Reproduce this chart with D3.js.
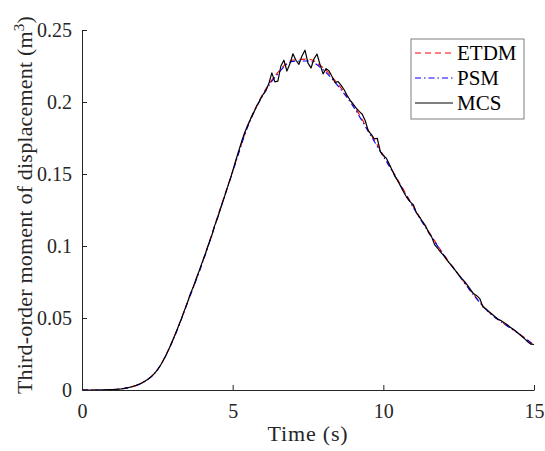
<!DOCTYPE html>
<html>
<head>
<meta charset="utf-8">
<script src="https://cdn.jsdelivr.net/npm/d3@7"></script>
<style>
  html, body { margin: 0; padding: 0; background: #fff; }
  svg { display: block; }
</style>
</head>
<body>
<div id="chart"></div>
<script>
// ---- data ----
const seriesNames = ['ETDM', 'PSM', 'MCS'];
const xTicks = [0, 5, 10, 15];
const yTicks = [0, 0.05, 0.1, 0.15, 0.2, 0.25];
const yTickLabels = ['0', '0.05', '0.1', '0.15', '0.2', '0.25'];

// smooth curves, every 0.5 s
const timeCoarse = [0, 0.5, 1, 1.5, 2, 2.5, 3, 3.5, 4, 4.5, 5, 5.5, 6, 6.5, 7, 7.5,
  8, 8.5, 9, 9.5, 10, 10.5, 11, 11.5, 12, 12.5, 13, 13.5, 14, 14.5, 15];
const etdm = [0, 0, 0.0003, 0.0015, 0.005, 0.014, 0.034, 0.061, 0.089, 0.1205, 0.152, 0.1835,
  0.2055, 0.2205, 0.2292, 0.2298, 0.2238, 0.2122, 0.1982, 0.1805, 0.1632, 0.1452, 0.1272,
  0.1102, 0.0942, 0.0802, 0.0662, 0.0542, 0.0462, 0.0392, 0.0312];
const psm = [0, 0, 0.0003, 0.0015, 0.005, 0.0138, 0.0336, 0.0605, 0.0884, 0.1198, 0.1514, 0.1828,
  0.2046, 0.2196, 0.2282, 0.2285, 0.2224, 0.2110, 0.1970, 0.1795, 0.1622, 0.1445, 0.1265,
  0.1096, 0.0938, 0.0798, 0.0658, 0.0540, 0.0460, 0.0390, 0.0311];

// Monte Carlo estimate, every 0.1 s (t = 0 ... 15)
const mcs = [
  0, 0, 0, 0, 0, 0, 0, 0.0001, 0.0001, 0.0002,
  0.0003, 0.0004, 0.0006, 0.0008, 0.0011, 0.0015, 0.0020, 0.0026, 0.0033, 0.0041,
  0.0050, 0.0062, 0.0076, 0.0093, 0.0114, 0.0139, 0.0170, 0.0206, 0.0247, 0.0292,
  0.0341, 0.0390, 0.0443, 0.0495, 0.0553, 0.0608, 0.0671, 0.0719, 0.0780, 0.0834,
  0.0893, 0.0950, 0.1012, 0.1068, 0.1140, 0.1195, 0.1262, 0.1325, 0.1390, 0.1452,
  0.1520, 0.1592, 0.1660, 0.1727, 0.1788, 0.1838, 0.1885, 0.1928, 0.1972, 0.2010,
  0.2050, 0.2078, 0.2128, 0.2202, 0.2140, 0.2145, 0.2250, 0.2290, 0.2215, 0.2265,
  0.2335, 0.2290, 0.2262, 0.2320, 0.2360, 0.2270, 0.2236, 0.2300, 0.2333, 0.2260,
  0.2195, 0.2232, 0.2215, 0.2175, 0.2134, 0.2142, 0.2115, 0.2085, 0.2045, 0.2012,
  0.1985, 0.1958, 0.1935, 0.1915, 0.1870, 0.1800, 0.1775, 0.1745, 0.1748, 0.1655,
  0.1628, 0.1610, 0.1568, 0.1522, 0.1480, 0.1445, 0.1405, 0.1365, 0.1330, 0.1305,
  0.1285, 0.1230, 0.1200, 0.1170, 0.1140, 0.1095, 0.1065, 0.1010, 0.0985, 0.0958,
  0.0935, 0.0905, 0.0880, 0.0855, 0.0827, 0.0800, 0.0775, 0.0752, 0.0725, 0.0695,
  0.0668, 0.0655, 0.0635, 0.0578, 0.0565, 0.0545, 0.0528, 0.0510, 0.0493, 0.0482,
  0.0468, 0.0455, 0.0438, 0.0423, 0.0408, 0.0390, 0.0372, 0.0353, 0.0333, 0.0318,
  0.0316
];

// ---- layout ----
const W = 545, H = 451;
const margin = { left: 82, right: 11, top: 30, bottom: 61 };
const FONT = '"Liberation Serif"';
const AXIS = '#262626';

const svg = d3.select('#chart').append('svg')
  .attr('width', W).attr('height', H)
  .attr('viewBox', `0 0 ${W} ${H}`);

const x = d3.scaleLinear().domain([0, 15]).range([margin.left, W - margin.right]);
const y = d3.scaleLinear().domain([0, 0.25]).range([H - margin.bottom, margin.top]);

const timeFine = mcs.map((_, i) => i / 10);

// curves
const lineCoarse = d3.line().x((d, i) => x(timeCoarse[i])).y(d => y(d)).curve(d3.curveMonotoneX);
const lineFine = d3.line().x((d, i) => x(timeFine[i])).y(d => y(d));

svg.append('path').datum(etdm)
  .attr('d', lineCoarse).attr('fill', 'none')
  .attr('stroke', '#ff0000').attr('stroke-width', 1.1)
  .attr('stroke-dasharray', '6,4');

svg.append('path').datum(psm)
  .attr('d', lineCoarse).attr('fill', 'none')
  .attr('stroke', '#0000ff').attr('stroke-width', 1.1)
  .attr('stroke-dasharray', '6,3,1.5,3');

svg.append('path').datum(mcs)
  .attr('d', lineFine).attr('fill', 'none')
  .attr('stroke', '#000').attr('stroke-width', 1.2)
  .attr('stroke-linejoin', 'round');

// axes (MATLAB style: inward ticks, box off)
const xAxis = svg.append('g')
  .attr('transform', `translate(0,${y(0)})`)
  .call(d3.axisBottom(x).tickValues(xTicks).tickSizeInner(-5).tickSizeOuter(0).tickPadding(14));
const yAxis = svg.append('g')
  .attr('transform', `translate(${x(0)},0)`)
  .call(d3.axisLeft(y).tickValues(yTicks).tickSizeInner(-5).tickSizeOuter(0).tickPadding(10)
    .tickFormat((d, i) => yTickLabels[i]));

[xAxis, yAxis].forEach(a => {
  a.attr('font-family', null).attr('font-size', null);
  a.selectAll('path, line').attr('stroke', AXIS).attr('stroke-width', 1);
  a.selectAll('text')
    .attr('fill', AXIS)
    .style('font-family', FONT)
    .style('font-size', '20px');
});

// axis labels (1.1x the tick font, as MATLAB does)
svg.append('text')
  .attr('x', (x(0) + x(15)) / 2).attr('y', 441)
  .attr('text-anchor', 'middle')
  .attr('fill', AXIS)
  .style('font-family', FONT).style('font-size', '22px')
  .style('letter-spacing', '0.8px')
  .text('Time (s)');

const yl = svg.append('text')
  .attr('transform', `translate(32,${(y(0) + y(0.25)) / 2 - 5}) rotate(-90)`)
  .attr('text-anchor', 'middle')
  .attr('fill', AXIS)
  .style('font-family', FONT).style('font-size', '22px')
  .style('letter-spacing', '0.2px');
yl.append('tspan').text('Third-order moment of displacement (m');
yl.append('tspan').attr('baseline-shift', 'super').style('font-size', '15px').text('3');
yl.append('tspan').text(')');

// legend
const legend = svg.append('g').attr('transform', 'translate(411,39)');
legend.append('rect')
  .attr('width', 113).attr('height', 80)
  .attr('fill', '#fff').attr('stroke', '#7f7f7f').attr('stroke-width', 1);

const legendStyles = [
  { color: '#ff0000', dash: '6,4', width: 1.1 },
  { color: '#0000ff', dash: '6,3,1.5,3', width: 1.1 },
  { color: '#000', dash: null, width: 1.2 }
];
seriesNames.forEach((name, i) => {
  const row = legend.append('g').attr('transform', `translate(0,${14 + i * 25})`);
  row.append('line')
    .attr('x1', 4).attr('x2', 42).attr('y1', 0).attr('y2', 0)
    .attr('stroke', legendStyles[i].color)
    .attr('stroke-width', legendStyles[i].width)
    .attr('stroke-dasharray', legendStyles[i].dash);
  row.append('text')
    .attr('x', 46).attr('y', 0)
    .attr('dominant-baseline', 'central')
    .attr('fill', '#000')
    .style('font-family', FONT).style('font-size', '21px')
    .text(name);
});
</script>
</body>
</html>
